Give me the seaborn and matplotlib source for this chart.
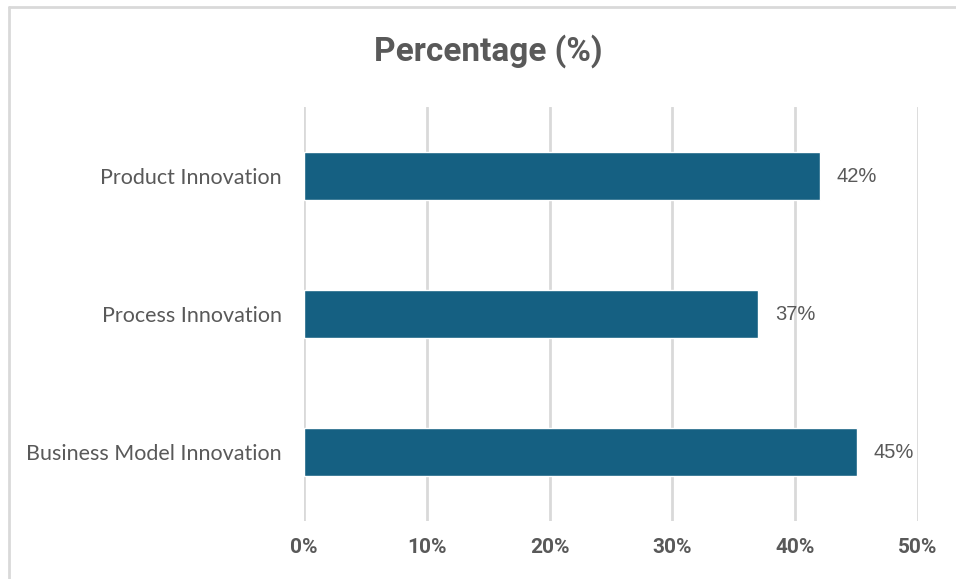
import matplotlib
matplotlib.use("Agg")
import matplotlib.pyplot as plt
import seaborn as sns
import pandas as pd
from matplotlib.ticker import FuncFormatter

categories = ["Product Innovation", "Process Innovation", "Business Model Innovation"]
values = [42, 37, 45]
x_ticks = [0, 10, 20, 30, 40, 50]
title = "Percentage (%)"

sns.set_theme(style="white")
plt.rcParams['font.family'] = ['Lato', 'DejaVu Sans']

df = pd.DataFrame({"category": categories, "value": values})

fig = plt.figure(figsize=(9.56, 5.79), dpi=100)
ax = fig.add_axes([304/956, 58/579, (918-304)/956, (521-107)/579])

sns.barplot(data=df, x="value", y="category", orient="h", color="#156082",
            width=0.35, saturation=1, ax=ax, zorder=3)

ax.set_xlim(0, 50)
ax.set_ylim(2.5, -0.5)
ax.set_xticks(x_ticks)
ax.xaxis.set_major_formatter(FuncFormatter(lambda v, p: f"{int(v)}%"))
ax.grid(axis="x", color="#d9d9d9", linewidth=2, zorder=0)
ax.grid(axis="y", visible=False)
for s in ax.spines.values():
    s.set_visible(False)
ax.set_xlabel("")
ax.set_ylabel("")

narrow = ['Roboto', 'DejaVu Sans']
ax.tick_params(axis="x", length=4, width=2, color="#d9d9d9", pad=8, labelsize=15,
               labelcolor="#595959")
for lbl in ax.get_xticklabels():
    lbl.set_fontweight("bold")
    lbl.set_family(narrow)
ax.tick_params(axis="y", length=0, pad=16, labelsize=15.5, labelcolor="#595959")

for i, v in enumerate(values):
    ax.annotate(f"{v}%", xy=(v, i), xytext=(12, 0), textcoords="offset points",
                va="center", ha="left", fontsize=14.5, color="#595959",
                family=['Liberation Sans', 'DejaVu Sans'])

fig.text(488/956, 1 - 51/579, title, ha="center", va="center", fontsize=24,
         fontweight="bold", color="#595959", family=narrow)

# outer chart border (left and top visible)
fig.add_artist(plt.Line2D([8.5/956, 8.5/956], [0, 1 - 7/579], transform=fig.transFigure,
                          color="#d9d9d9", linewidth=2))
fig.add_artist(plt.Line2D([8.5/956, 1], [1 - 7/579, 1 - 7/579], transform=fig.transFigure,
                          color="#d9d9d9", linewidth=2))

fig.savefig("out.png", dpi=100, facecolor="white")
